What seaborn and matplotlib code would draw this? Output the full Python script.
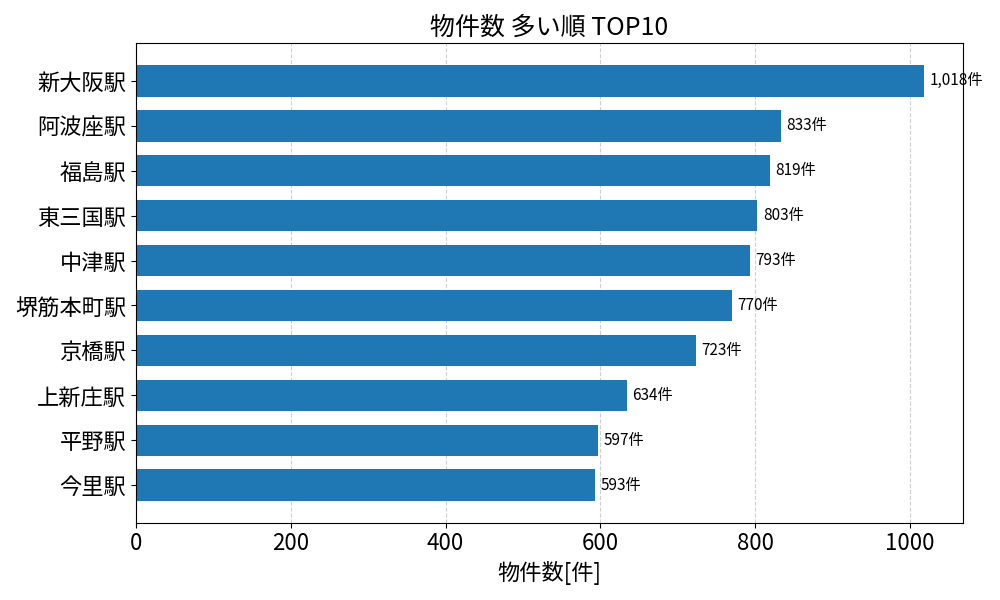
import matplotlib
matplotlib.use("Agg")
import matplotlib.pyplot as plt
import seaborn as sns
import pandas as pd

stations = ["新大阪駅", "阿波座駅", "福島駅", "東三国駅", "中津駅",
            "堺筋本町駅", "京橋駅", "上新庄駅", "平野駅", "今里駅"]
counts = [1018, 833, 819, 803, 793, 770, 723, 634, 597, 593]

plt.rcParams["font.family"] = ["Noto Sans CJK JP", "DejaVu Sans"]

df = pd.DataFrame({"station": stations, "count": counts})

fig, ax = plt.subplots(figsize=(10, 6), dpi=100)
sns.barplot(data=df, y="station", x="count", orient="h", color="#1f77b4",
            saturation=1, width=0.7, linewidth=0, ax=ax)

# value labels to the right of each bar
for i, v in enumerate(counts):
    ax.text(v + 7, i, f"{v:,}件", va="center", ha="left", fontsize=11,
            color="black")

ax.set_xlim(0, max(counts) * 1.05)
ax.set_ylim(len(counts) - 0.165, -0.835)
ax.set_title("物件数 多い順 TOP10", fontsize=18)
ax.set_xlabel("物件数[件]", fontsize=16)
ax.set_ylabel("")
ax.tick_params(axis="both", labelsize=16)
ax.grid(axis="x", linestyle="--", alpha=0.6)
ax.grid(axis="y", visible=False)
ax.set_axisbelow(True)

plt.tight_layout()
plt.savefig("out.png")
